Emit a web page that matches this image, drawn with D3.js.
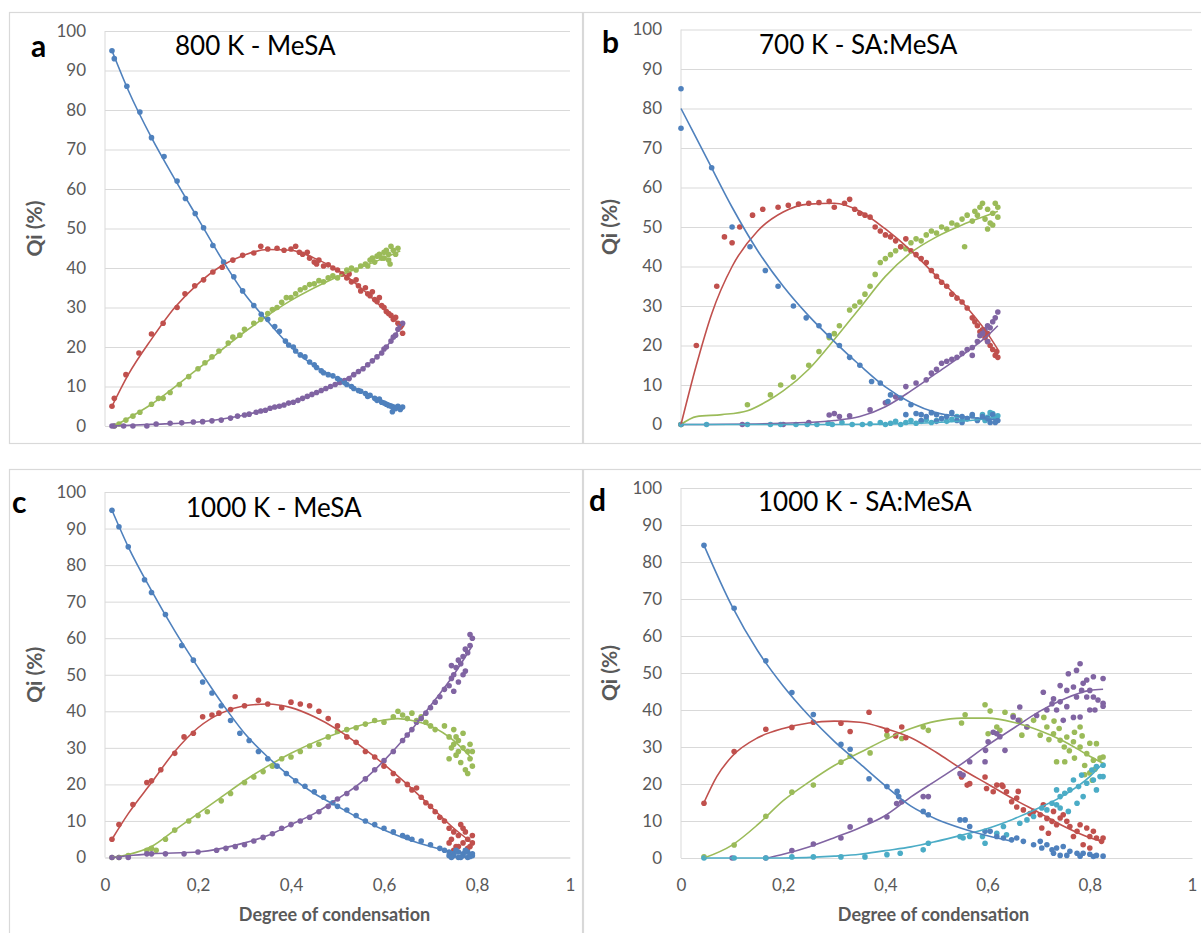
<!DOCTYPE html>
<html><head><meta charset="utf-8">
<script src="https://cdn.jsdelivr.net/npm/d3@7"></script>
<style>body{margin:0;background:#fff;} svg{display:block;font-family:Lato,"Open Sans",sans-serif;}</style>
</head><body><svg id="chart" width="1201" height="933"></svg>
<script>
// ---------- tick labels / categories ----------
const yTicks = [0,10,20,30,40,50,60,70,80,90,100];
const xTicks = [0,0.2,0.4,0.6,0.8,1];
const xTickLabels = ["0","0,2","0,4","0,6","0,8","1"];
const panelLetters = ["a","b","c","d"];
const panelTitles = ["800 K - MeSA","700 K - SA:MeSA","1000 K - MeSA","1000 K - SA:MeSA"];
const yAxisTitle = "Qi (%)";
const xAxisTitle = "Degree of condensation";
const seriesNames = ["blue","red","green","purple","cyan"];
const seriesColors = {blue:"#4F81BD",red:"#C0504D",green:"#9BBB59",purple:"#8064A2",cyan:"#4BACC6"};

// ---------- panel a : 800 K - MeSA ----------
const aBlue = [[0.015,95],[0.02,93],[0.047,86],[0.075,79.5],[0.1,73],[0.127,68.2],[0.155,62],[0.173,57.6],[0.194,53.8],[0.212,50.2],[0.232,45.7],[0.255,41.5],[0.277,37.8],[0.296,34.2],[0.32,30.5],[0.336,28.3],[0.35,27],[0.365,25.2],[0.375,24],[0.388,21.5],[0.395,20.5],[0.405,20],[0.41,19],[0.42,18],[0.43,17.5],[0.44,16.2],[0.45,15.5],[0.455,14.8],[0.465,14],[0.47,13.5],[0.48,13],[0.49,12.7],[0.5,12],[0.505,11.6],[0.515,11],[0.52,10.5],[0.53,10],[0.535,9.5],[0.545,9],[0.55,8.8],[0.56,8.2],[0.565,7.5],[0.57,7.8],[0.58,7],[0.585,6.5],[0.59,6.8],[0.595,6],[0.6,5.8],[0.605,5.5],[0.61,5.2],[0.615,5],[0.62,4.6],[0.625,4.4],[0.63,5],[0.635,4.2],[0.64,4.8],[0.618,3.6]];
const aBlueFit = [[0.015,95],[0.05,85],[0.1,73],[0.15,62.5],[0.2,52.5],[0.25,42.5],[0.3,33.5],[0.35,26.5],[0.4,20],[0.45,15.2],[0.5,12],[0.55,8.8],[0.6,6.2],[0.64,4.6]];
const aRed = [[0.015,5],[0.02,7],[0.045,13],[0.073,18.5],[0.1,23.3],[0.125,26],[0.155,30],[0.172,33.5],[0.193,35.5],[0.212,37],[0.232,39],[0.252,40.2],[0.275,42],[0.296,43.2],[0.32,43.8],[0.335,45.5],[0.35,44.8],[0.37,45],[0.385,44.5],[0.4,44.8],[0.41,45.5],[0.418,44],[0.425,43.5],[0.435,44],[0.44,42.5],[0.45,41.5],[0.455,41],[0.46,42],[0.47,40.5],[0.48,40.8],[0.49,40],[0.5,39.5],[0.51,38.5],[0.52,37.5],[0.525,38.5],[0.53,36.5],[0.54,37],[0.545,35.5],[0.55,34.2],[0.56,35],[0.565,33.5],[0.57,33],[0.575,34],[0.58,32],[0.585,31.5],[0.59,32.5],[0.595,30.5],[0.6,30],[0.605,29],[0.61,28.5],[0.615,28],[0.62,27],[0.625,27.5],[0.63,26],[0.635,25],[0.64,23.5],[0.638,25.5]];
const aRedFit = [[0.015,5],[0.05,13],[0.1,22],[0.15,30],[0.2,36],[0.25,40.5],[0.3,43.3],[0.35,44.7],[0.4,44.5],[0.45,42.5],[0.5,39.5],[0.55,35],[0.6,29.5],[0.64,25]];
const aGreen = [[0.02,0],[0.03,0.5],[0.045,1.5],[0.06,2.5],[0.075,3.5],[0.1,5.5],[0.115,7],[0.125,7],[0.14,8.5],[0.16,10.5],[0.18,12.5],[0.2,14.5],[0.215,16],[0.23,17.5],[0.245,19],[0.265,21],[0.275,22.5],[0.29,23],[0.3,24.5],[0.32,26],[0.335,27],[0.35,28.5],[0.36,29.5],[0.37,30],[0.38,31.3],[0.39,32.5],[0.4,32.5],[0.41,33.5],[0.42,34.5],[0.43,35],[0.44,35.8],[0.45,36],[0.46,36.8],[0.47,36.5],[0.48,37.5],[0.49,38],[0.5,37.5],[0.51,38.5],[0.52,39.5],[0.53,40],[0.54,39.5],[0.55,40.5],[0.56,41],[0.565,40.5],[0.57,42],[0.575,42.5],[0.58,41.5],[0.585,43],[0.59,43.5],[0.595,42.5],[0.6,44],[0.605,44.5],[0.61,43.5],[0.615,45.5],[0.62,44.5],[0.625,43.5],[0.63,45],[0.6,42.5],[0.61,42],[0.613,41]];
const aGreenFit = [[0.02,0],[0.1,5.5],[0.2,14.5],[0.3,23.8],[0.4,31.8],[0.5,37.8],[0.6,42.5],[0.635,44.3]];
const aPurple = [[0.015,0],[0.02,0],[0.04,0],[0.06,0],[0.09,0],[0.11,0.5],[0.14,0.7],[0.165,0.8],[0.19,1],[0.21,1.1],[0.23,1.3],[0.25,1.5],[0.27,2],[0.285,2.5],[0.3,2.8],[0.31,3],[0.325,3.5],[0.335,3.8],[0.345,4],[0.355,4.5],[0.365,4.8],[0.375,5],[0.385,5.3],[0.395,5.8],[0.405,6],[0.415,6.5],[0.425,7],[0.435,7.5],[0.445,8],[0.455,8.5],[0.465,9],[0.475,9.5],[0.485,10],[0.495,10.5],[0.505,11],[0.515,11.5],[0.525,12],[0.535,13],[0.545,13.8],[0.555,14.5],[0.565,15.5],[0.575,16.5],[0.585,17.5],[0.595,18.5],[0.6,19.5],[0.605,20],[0.615,21.5],[0.62,22.5],[0.625,23],[0.63,24.5],[0.635,25.5],[0.64,26]];
const aPurpleFit = [[0.015,0],[0.1,0.4],[0.2,1],[0.3,2.8],[0.4,6],[0.5,10.8],[0.55,14.2],[0.6,19.3],[0.64,25.8]];

// ---------- panel b : 700 K - SA:MeSA ----------
const bBlue = [[0,85],[0,75],[0.06,65],[0.1,50],[0.135,45],[0.165,39],[0.19,35],[0.22,30],[0.245,27],[0.27,25],[0.29,22.5],[0.31,20],[0.33,17],[0.35,15],[0.373,10.9],[0.39,10.5],[0.41,7.5],[0.405,5.8],[0.43,6.7],[0.45,5],[0.46,2.8],[0.47,2.5],[0.48,2],[0.49,3],[0.5,2.5],[0.51,1.5],[0.52,2],[0.53,3],[0.54,1],[0.55,2],[0.56,1.5],[0.57,2.5],[0.58,1],[0.59,2],[0.6,1.5],[0.61,2.5],[0.62,1],[0.615,0.5],[0.605,0.5],[0.55,0.5],[0.5,0.8],[0.47,1],[0.44,2.5]];
const bBlueFit = [[0,80],[0.05,67.5],[0.1,55],[0.15,44],[0.2,35],[0.25,27.5],[0.3,21],[0.35,15],[0.4,9.5],[0.45,5.5],[0.5,3],[0.55,2],[0.62,1.2]];
const bRed = [[0,0],[0.03,20],[0.07,35],[0.085,47.5],[0.1,46],[0.115,50],[0.14,53],[0.16,54.5],[0.19,55],[0.21,55.5],[0.23,55.8],[0.25,56],[0.27,56.2],[0.29,56.5],[0.3,55],[0.32,56],[0.33,57],[0.34,54.5],[0.35,53.5],[0.36,53],[0.37,52.5],[0.38,50],[0.39,49],[0.4,48],[0.41,47.5],[0.42,46.5],[0.43,45],[0.44,47],[0.45,44],[0.46,43],[0.47,42],[0.48,41],[0.49,39],[0.5,37.5],[0.51,36],[0.52,35],[0.53,33],[0.54,32],[0.55,31],[0.56,29.5],[0.57,27],[0.575,26],[0.58,25],[0.585,23.5],[0.59,24],[0.595,22],[0.6,21],[0.605,20],[0.61,19],[0.615,17.5],[0.62,17],[0.618,18.5],[0.6,23]];
const bRedFit = [[0,0],[0.03,15],[0.06,28],[0.1,40],[0.15,49],[0.2,53.8],[0.25,55.8],[0.3,56],[0.35,54],[0.4,49.5],[0.45,44],[0.5,37.5],[0.55,31],[0.6,23],[0.62,19]];
const bGreen = [[0,0],[0.13,5],[0.175,7.5],[0.195,10],[0.22,12],[0.25,15],[0.27,18.5],[0.29,22],[0.3,23],[0.31,25],[0.33,29],[0.34,30],[0.35,31],[0.36,33],[0.37,35],[0.38,38],[0.39,41],[0.4,42],[0.41,43],[0.42,44],[0.43,45],[0.44,44.5],[0.45,46],[0.46,47],[0.47,46.5],[0.48,48],[0.49,49],[0.5,48.5],[0.51,50],[0.52,49.5],[0.53,51],[0.54,50.5],[0.55,52],[0.555,45],[0.56,53],[0.57,51.5],[0.575,54],[0.58,53],[0.585,55],[0.59,56],[0.595,52],[0.6,54.5],[0.605,51],[0.61,53.5],[0.615,56],[0.62,52.5],[0.6,49.5],[0.61,50.5],[0.62,55]];
const bGreenFit = [[0,0],[0.03,2],[0.08,2.5],[0.13,3.5],[0.17,6],[0.2,8.5],[0.25,14],[0.3,21.5],[0.35,29.5],[0.4,37.5],[0.45,43.5],[0.5,47.5],[0.55,50.5],[0.6,53],[0.62,54]];
const bPurple = [[0.12,0],[0.2,0],[0.25,0.5],[0.29,2.4],[0.3,2.8],[0.31,2],[0.33,2.2],[0.37,3.7],[0.4,5.5],[0.42,7],[0.44,9.6],[0.46,10.5],[0.48,11.3],[0.49,13],[0.5,14],[0.51,15.5],[0.52,16],[0.53,16.5],[0.54,17],[0.55,18],[0.56,19],[0.57,19.5],[0.58,21],[0.585,22.5],[0.59,23],[0.595,24],[0.6,25],[0.605,24.5],[0.61,26],[0.615,27],[0.62,28.5],[0.6,21],[0.57,17.5]];
const bPurpleFit = [[0,0],[0.2,0.3],[0.3,1],[0.35,2],[0.4,4.5],[0.45,8.5],[0.5,13],[0.55,17.5],[0.6,22.5],[0.62,25]];
const bCyan = [[0,0],[0.05,0],[0.13,0],[0.175,0],[0.195,0],[0.225,0],[0.247,0],[0.266,0],[0.288,0.3],[0.296,0],[0.315,0.5],[0.335,0],[0.355,0],[0.37,0.2],[0.39,0.5],[0.4,0],[0.41,0.3],[0.42,0.8],[0.43,0],[0.44,0.5],[0.45,1],[0.46,0.3],[0.47,0.8],[0.48,1.2],[0.49,0.5],[0.5,1],[0.51,1.5],[0.52,0.8],[0.53,1.3],[0.54,2],[0.55,1],[0.56,1.5],[0.57,2.2],[0.58,1.2],[0.59,2.5],[0.6,1.8],[0.61,2.8],[0.62,2.2],[0.615,1.5],[0.605,3],[0.595,1]];
const bCyanFit = [[0,0],[0.3,0],[0.4,0.1],[0.5,0.5],[0.6,1.5],[0.62,2]];

// ---------- panel c : 1000 K - MeSA ----------
const cBlue = [[0.015,95],[0.03,90.5],[0.05,85],[0.085,76],[0.1,72.5],[0.13,66.5],[0.165,58],[0.19,54],[0.21,48],[0.23,45],[0.25,41.5],[0.27,37.5],[0.29,34],[0.31,32],[0.33,29],[0.35,27],[0.37,25],[0.39,23],[0.41,21],[0.43,19.5],[0.45,18],[0.47,16.5],[0.49,15],[0.5,14],[0.52,13],[0.54,11.5],[0.56,10],[0.58,9],[0.6,8],[0.62,7],[0.64,6],[0.65,5.5],[0.66,5],[0.68,4.5],[0.7,3.5],[0.72,2.5],[0.73,2],[0.74,1.5],[0.75,1],[0.75,0.5],[0.76,0],[0.76,1.5],[0.77,0.5],[0.77,1],[0.78,0],[0.78,1.5],[0.79,0.5],[0.79,1],[0.74,0.5],[0.745,0],[0.755,2],[0.765,0],[0.775,2],[0.785,0.3]];
const cBlueFit = [[0.015,95],[0.05,85],[0.1,73],[0.15,62],[0.2,52],[0.25,42.5],[0.3,34],[0.35,27.5],[0.4,22],[0.45,17.5],[0.5,14],[0.55,10.5],[0.6,7.5],[0.65,5],[0.7,3],[0.75,1.5],[0.79,1]];
const cRed = [[0.015,5],[0.03,9],[0.06,14.5],[0.09,20.5],[0.1,21],[0.12,24],[0.15,28.5],[0.17,33],[0.19,34],[0.21,38.5],[0.23,39],[0.245,39.5],[0.27,40.5],[0.28,44],[0.3,41.5],[0.33,43],[0.35,42],[0.38,41],[0.4,42.5],[0.42,42],[0.44,41.5],[0.46,40],[0.48,38],[0.5,36],[0.52,33],[0.54,31.5],[0.56,29],[0.58,27.5],[0.6,25],[0.62,23],[0.63,21],[0.65,20],[0.66,18.5],[0.67,19],[0.68,16.5],[0.69,15],[0.7,14],[0.71,12.5],[0.72,11],[0.73,10],[0.74,8],[0.745,5],[0.75,7],[0.755,3],[0.76,6],[0.765,9],[0.77,4],[0.775,7],[0.78,5],[0.785,3],[0.79,6],[0.74,4],[0.75,2],[0.76,3],[0.77,8],[0.78,2.5],[0.79,4]];
const cRedFit = [[0.015,5],[0.05,12],[0.1,20.5],[0.15,29],[0.2,35.5],[0.25,39.5],[0.3,41.5],[0.35,42],[0.4,41],[0.45,38.5],[0.5,35],[0.55,30.5],[0.6,25.5],[0.65,20],[0.7,14],[0.75,8],[0.79,4]];
const cGreen = [[0.015,0],[0.03,0],[0.05,0.5],[0.09,2],[0.1,2.5],[0.11,2],[0.13,5],[0.15,7.5],[0.18,10],[0.2,11.5],[0.22,12.5],[0.25,15.5],[0.27,17.5],[0.3,20.5],[0.32,22],[0.34,23.5],[0.36,25],[0.38,27],[0.4,27.5],[0.42,29],[0.44,30.5],[0.46,31],[0.48,33],[0.5,34.5],[0.52,35],[0.54,35.5],[0.56,36.5],[0.58,37.5],[0.6,37],[0.62,38.5],[0.63,40],[0.64,39],[0.65,38],[0.66,39.5],[0.67,37.5],[0.68,38.5],[0.69,37],[0.7,36],[0.71,35],[0.73,36],[0.74,33],[0.745,30],[0.75,35],[0.755,28],[0.76,32],[0.765,26],[0.77,30],[0.775,24],[0.78,29],[0.785,27],[0.79,25],[0.74,27],[0.75,31],[0.76,29],[0.77,34],[0.78,23],[0.785,31],[0.79,29],[0.755,33]];
const cGreenFit = [[0.015,0],[0.05,0.8],[0.1,3],[0.15,7.5],[0.2,12],[0.25,16.5],[0.3,21],[0.35,25],[0.4,28.5],[0.45,31.5],[0.5,34],[0.55,36.2],[0.6,37.6],[0.63,38],[0.66,37.5],[0.7,36],[0.75,32],[0.79,27]];
const cPurple = [[0.015,0],[0.03,0],[0.05,0],[0.09,1],[0.1,1],[0.13,1],[0.17,1],[0.2,1.5],[0.24,2],[0.26,2.5],[0.28,3],[0.3,3.5],[0.32,4.5],[0.34,5.5],[0.36,6.5],[0.38,8],[0.4,9],[0.42,10],[0.44,11],[0.46,12.5],[0.48,14],[0.5,16],[0.52,17.5],[0.54,19],[0.56,21.5],[0.58,24],[0.6,26.5],[0.62,29],[0.64,32],[0.65,33.5],[0.66,35],[0.67,37],[0.68,38],[0.69,39.5],[0.7,41],[0.71,42.5],[0.72,44],[0.73,46],[0.74,47],[0.745,49],[0.75,50],[0.755,52],[0.76,48],[0.765,53],[0.77,55],[0.775,51],[0.78,56],[0.785,58],[0.79,60],[0.785,61],[0.775,57],[0.76,54],[0.75,45.5],[0.77,50],[0.745,52.5]];
const cPurpleFit = [[0.015,0],[0.05,0.5],[0.1,1],[0.2,1.5],[0.3,4],[0.35,6],[0.4,9],[0.45,12],[0.5,16],[0.55,20.5],[0.6,26.5],[0.65,33.5],[0.7,41.5],[0.75,50],[0.79,58]];

// ---------- panel d : 1000 K - SA:MeSA ----------
const dBlue = [[0.045,84.5],[0.104,67.5],[0.166,53.3],[0.217,44.7],[0.259,38.8],[0.313,30.7],[0.331,29.4],[0.368,21.4],[0.403,19.3],[0.423,18],[0.426,16.6],[0.474,12.6],[0.484,11.7],[0.546,10.3],[0.556,10.3],[0.565,8.5],[0.595,7.2],[0.605,7.2],[0.618,5.8],[0.631,5.4],[0.647,4.9],[0.657,5.4],[0.67,4.5],[0.69,3.6],[0.703,4.5],[0.706,2.7],[0.716,3.6],[0.726,2.2],[0.735,2.7],[0.748,3.1],[0.761,1.8],[0.775,1.3],[0.787,1.3],[0.8,1],[0.813,0.7],[0.826,0.5],[0.742,0.7],[0.755,0.7],[0.729,1.3],[0.781,0.5],[0.807,0.4]];
const dBlueFit = [[0.045,84.5],[0.1,68],[0.15,56],[0.2,46.5],[0.25,38.5],[0.3,31.5],[0.35,25.5],[0.4,19.5],[0.45,14],[0.5,10.5],[0.55,8],[0.6,6],[0.65,4.5]];
const dRed = [[0.045,14.8],[0.104,28.8],[0.166,34.8],[0.217,35.3],[0.259,36.7],[0.313,36.4],[0.331,34.2],[0.368,39.4],[0.403,34.5],[0.432,35.4],[0.42,33],[0.44,32.5],[0.549,21.9],[0.565,20.1],[0.595,21.9],[0.598,18.8],[0.611,17.9],[0.618,19.7],[0.628,19.7],[0.637,17.9],[0.647,15.2],[0.657,13.8],[0.67,13],[0.683,12],[0.703,11.7],[0.716,10.7],[0.726,9.9],[0.735,9],[0.706,8.1],[0.719,6.7],[0.742,10.8],[0.755,9.9],[0.761,8.5],[0.775,7.2],[0.781,9],[0.794,8.1],[0.8,5.8],[0.807,7.2],[0.813,5.4],[0.823,4.5],[0.826,5.4],[0.8,2.7],[0.787,3.6],[0.768,5.8],[0.748,11.7],[0.729,12.6],[0.709,14.4],[0.69,12.6],[0.657,16.2],[0.66,18],[0.63,19.3],[0.56,19.7]];
const dRedFit = [[0.045,15],[0.07,22],[0.1,27.5],[0.15,32.5],[0.2,35],[0.25,36.5],[0.3,37],[0.35,36.7],[0.4,35],[0.45,32.5],[0.5,28.5],[0.55,24],[0.6,20],[0.65,16],[0.7,12.3],[0.75,8.5],[0.8,5.5],[0.826,4.5]];
const dGreen = [[0.045,0.3],[0.104,3.5],[0.166,11.3],[0.217,17.8],[0.259,19.7],[0.313,25.9],[0.331,27.5],[0.37,28.4],[0.403,33.2],[0.432,32.3],[0.474,35.4],[0.484,34.5],[0.549,36.5],[0.556,38.7],[0.595,41.4],[0.605,39.7],[0.634,39.4],[0.65,38.5],[0.663,37.2],[0.677,35.4],[0.69,37.2],[0.703,33.2],[0.716,35.4],[0.729,33.6],[0.742,31.8],[0.755,32.7],[0.768,31.4],[0.781,30],[0.794,28.2],[0.807,26.4],[0.813,30.9],[0.826,27.3],[0.735,26],[0.751,26],[0.781,35.4],[0.667,33.2],[0.601,33.6],[0.618,35.4],[0.624,34.5],[0.76,29],[0.77,27],[0.79,25],[0.8,23],[0.81,24],[0.82,27],[0.785,33],[0.8,31],[0.77,34],[0.75,30],[0.74,35],[0.73,37],[0.72,32],[0.71,38],[0.79,22.5],[0.805,21]];
const dGreenFit = [[0.045,0],[0.1,3.5],[0.15,9],[0.2,15.5],[0.25,20.5],[0.3,25],[0.35,28.5],[0.4,32],[0.45,35],[0.5,37],[0.55,37.8],[0.6,37.8],[0.65,36.7],[0.7,34.5],[0.75,31.5],[0.8,27.5],[0.826,25.6]];
const dPurple = [[0.1,0],[0.166,0],[0.217,2],[0.259,3.8],[0.313,5.4],[0.331,8.4],[0.37,10.2],[0.403,11.1],[0.422,14.7],[0.432,15.2],[0.474,16.6],[0.484,16.6],[0.546,22.8],[0.552,22.4],[0.565,26],[0.595,26],[0.596,29.1],[0.601,31.4],[0.611,34],[0.618,33.6],[0.634,29.1],[0.624,32.8],[0.65,38.1],[0.66,37.2],[0.663,40.8],[0.677,35.4],[0.696,38.5],[0.709,44.8],[0.716,40],[0.726,41.7],[0.729,43],[0.735,40],[0.742,42.2],[0.748,37.2],[0.755,45.3],[0.758,49.8],[0.768,38],[0.774,50.7],[0.781,52.5],[0.787,47.2],[0.794,48.1],[0.8,45.3],[0.807,49],[0.81,40],[0.816,42.7],[0.826,48.5],[0.826,41.8],[0.826,41],[0.781,38.1],[0.768,46.2],[0.774,43.5],[0.742,46.6],[0.794,43.5],[0.8,40],[0.755,40.9],[0.784,45.3],[0.807,43.5]];
const dPurpleFit = [[0.17,0],[0.2,1],[0.25,3],[0.3,5.5],[0.35,8.2],[0.4,11.5],[0.45,16.5],[0.5,21],[0.55,25.5],[0.6,30.5],[0.65,35],[0.7,39.5],[0.75,43],[0.8,45.3],[0.826,45.6]];
const dCyan = [[0.045,0],[0.104,0],[0.166,0],[0.217,0.3],[0.259,0.3],[0.313,0.3],[0.36,0.3],[0.403,0.9],[0.429,1.3],[0.474,2.2],[0.484,4],[0.546,5.8],[0.552,5.4],[0.565,5.8],[0.59,5.8],[0.595,4],[0.618,6.7],[0.631,8.5],[0.637,6.3],[0.663,9.4],[0.677,10.3],[0.69,11.2],[0.706,13.5],[0.716,13],[0.726,14.8],[0.735,14.4],[0.742,16.6],[0.751,17.5],[0.761,18.4],[0.768,21.1],[0.778,19.3],[0.784,22.4],[0.794,20.2],[0.804,23.8],[0.813,18.4],[0.82,22],[0.826,25.1],[0.826,22],[0.758,12.6],[0.775,14.8],[0.735,18.4],[0.787,16.6],[0.807,21.1],[0.742,13.5],[0.813,24.7]];
const dCyanFit = [[0.045,0],[0.2,0],[0.3,0.5],[0.35,1],[0.4,2],[0.45,3],[0.5,4.5],[0.55,6.2],[0.6,8],[0.65,10.5],[0.7,13.5],[0.75,17],[0.8,22],[0.826,25.6]];

// ---------- layout (positions only) ----------
const panels = [
  {border:[9,12,582,443], x0:105, x1:570, yTop:31, yBot:426, letter:[31,57], title:[175,55], yTitleX:37, xAxis:false,
   data:{blue:aBlue,red:aRed,green:aGreen,purple:aPurple}, fits:{blue:aBlueFit,red:aRedFit,green:aGreenFit,purple:aPurpleFit}},
  {border:[583,12,1215,443], x0:681, x1:1192, yTop:29.5, yBot:424.5, letter:[602,53], title:[759,54], yTitleX:612, xAxis:false,
   data:{blue:bBlue,red:bRed,green:bGreen,purple:bPurple,cyan:bCyan}, fits:{blue:bBlueFit,red:bRedFit,green:bGreenFit,purple:bPurpleFit,cyan:bCyanFit}},
  {border:[9,469,582,950], x0:105, x1:570, yTop:492, yBot:857.5, letter:[12,513], title:[186,517], yTitleX:37, xAxis:true,
   data:{blue:cBlue,red:cRed,green:cGreen,purple:cPurple}, fits:{blue:cBlueFit,red:cRedFit,green:cGreenFit,purple:cPurpleFit}},
  {border:[583,469,1215,950], x0:681, x1:1192, yTop:488, yBot:858, letter:[589,511], title:[758,511], yTitleX:612, xAxis:true,
   data:{blue:dBlue,red:dRed,green:dGreen,purple:dPurple,cyan:dCyan}, fits:{blue:dBlueFit,red:dRedFit,green:dGreenFit,purple:dPurpleFit,cyan:dCyanFit}}
];
const drawOrder = ["green","red","purple","cyan","blue"];

const svg = d3.select("#chart");
panels.forEach((p, i) => {
  const g = svg.append("g");
  const [bx0, by0, bx1, by1] = p.border;
  g.append("rect").attr("x", bx0 + 0.5).attr("y", by0 + 0.5).attr("width", bx1 - bx0).attr("height", by1 - by0)
    .attr("fill", "#fff").attr("stroke", "#d9d9d9").attr("stroke-width", 1.2);

  const x = d3.scaleLinear().domain([0, 1]).range([p.x0, p.x1]);
  const y = d3.scaleLinear().domain([0, 100]).range([p.yBot, p.yTop]);

  const ya = g.append("g").attr("transform", `translate(${p.x0},0)`)
    .call(d3.axisLeft(y).tickValues(yTicks).tickSize(-(p.x1 - p.x0)).tickPadding(19));
  ya.select(".domain").remove();
  ya.selectAll(".tick line").attr("stroke", "#d9d9d9").attr("stroke-width", 1);
  ya.selectAll(".tick text").attr("fill", "#595959").style("font-size", "17px").style("font-family", "Lato, sans-serif");
  g.append("line").attr("x1", p.x0).attr("x2", p.x0).attr("y1", p.yTop).attr("y2", p.yBot).attr("stroke", "#d9d9d9");

  if (p.xAxis) {
    const xa = g.append("g").attr("transform", `translate(0,${p.yBot})`)
      .call(d3.axisBottom(x).tickValues(xTicks).tickFormat((d, k) => xTickLabels[k]).tickSize(0).tickPadding(21));
    xa.select(".domain").attr("stroke", "#d9d9d9");
    xa.selectAll(".tick text").attr("fill", "#595959").style("font-size", "17px").style("font-family", "Lato, sans-serif");
    g.append("text").attr("x", (p.x0 + p.x1) / 2 - 3).attr("y", p.yBot + 63).attr("text-anchor", "middle")
      .attr("fill", "#595959").style("font-size", "18px").style("font-weight", "bold").text(xAxisTitle);
  }

  drawOrder.forEach(s => {
    if (!p.data[s]) return;
    g.append("g").selectAll("circle").data(p.data[s]).join("circle")
      .attr("cx", d => x(d[0])).attr("cy", d => y(d[1])).attr("r", 2.8).attr("fill", seriesColors[s]);
  });
  const line = d3.line().x(d => x(d[0])).y(d => y(d[1])).curve(d3.curveMonotoneX);
  drawOrder.forEach(s => {
    if (!p.fits[s]) return;
    g.append("path").attr("d", line(p.fits[s])).attr("fill", "none").attr("stroke", seriesColors[s]).attr("stroke-width", 1.6);
  });

  g.append("text").attr("x", p.letter[0]).attr("y", p.letter[1]).style("font-size", "30px").style("font-weight", "bold")
    .attr("fill", "#000").text(panelLetters[i]);
  g.append("text").attr("x", p.title[0]).attr("y", p.title[1]).style("font-size", "26px").attr("fill", "#000").text(panelTitles[i]);
  g.append("text").attr("transform", `translate(${p.yTitleX},${(p.yTop + p.yBot) / 2}) rotate(-90)`).attr("text-anchor", "middle")
    .attr("dominant-baseline", "middle").attr("fill", "#595959").style("font-size", "21px").style("font-weight", "bold").text(yAxisTitle);
});
</script></body></html>
